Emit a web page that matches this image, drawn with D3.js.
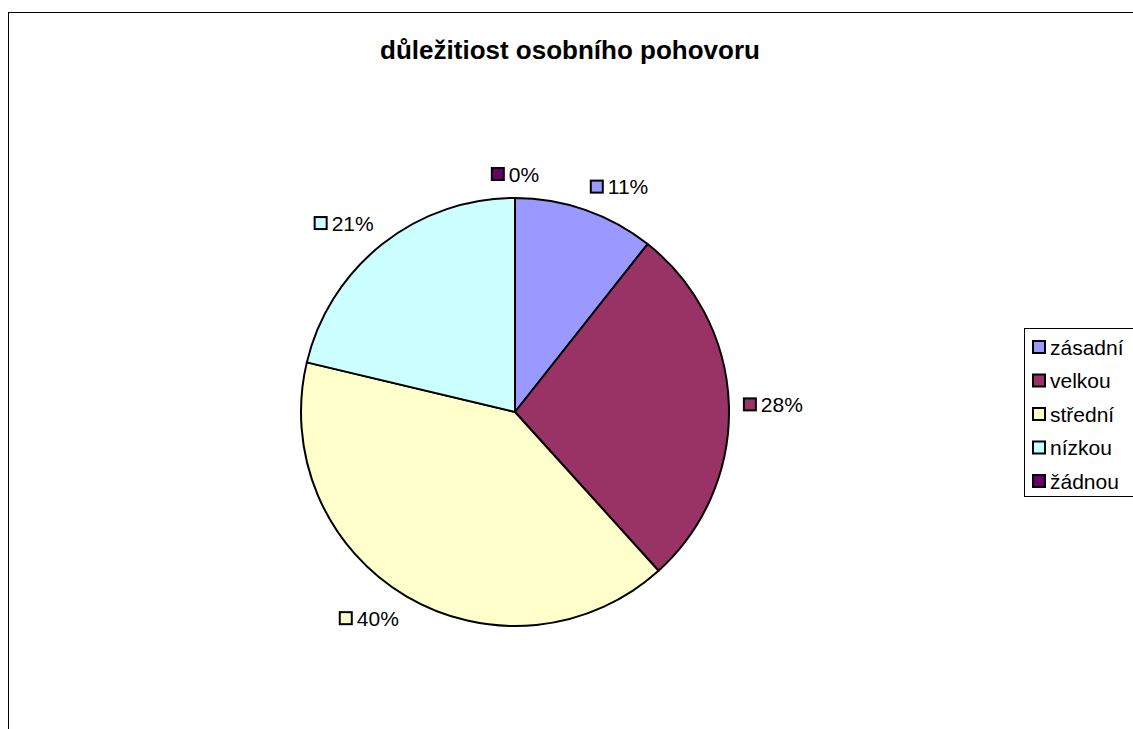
<!DOCTYPE html>
<html>
<head>
<meta charset="utf-8">
<script src="https://cdn.jsdelivr.net/npm/d3@7/dist/d3.min.js"></script>
<style>
  html, body { margin: 0; padding: 0; background: #fff; }
  svg { display: block; }
  text { font-family: "Liberation Sans", Arial, sans-serif; }
</style>
</head>
<body>
<script>
// Survey answers: how important is the personal interview (respondent counts)
const categories = ["zásadní", "velkou", "střední", "nízkou", "žádnou"];
const counts = [5, 13, 19, 10, 0];
const colors = ["#9999FF", "#993366", "#FFFFCC", "#CCFFFF", "#660066"];
const title = "důležitiost osobního pohovoru";

const W = 1133, H = 729;
const cx = 515, cy = 412, r = 214;

const svg = d3.select("body").append("svg")
  .attr("width", W).attr("height", H);

// chart frame (top and left edges visible)
svg.append("rect")
  .attr("x", 8.5).attr("y", 12.5)
  .attr("width", 1140).attr("height", 740)
  .attr("fill", "#fff").attr("stroke", "#000").attr("stroke-width", 1);

svg.append("text")
  .attr("x", 570).attr("y", 59)
  .attr("text-anchor", "middle")
  .attr("font-size", 26).attr("font-weight", "bold")
  .text(title);

const total = d3.sum(counts);
const data = categories.map((c, i) => ({ name: c, value: counts[i], color: colors[i] }));

const pie = d3.pie().value(d => d.value).sort(null);
const arcs = pie(data);
const arc = d3.arc().innerRadius(0).outerRadius(r);

const g = svg.append("g").attr("transform", `translate(${cx},${cy})`);
g.selectAll("path.slice")
  .data(arcs)
  .join("path")
  .attr("class", "slice")
  .attr("d", arc)
  .attr("fill", d => d.data.color)
  .attr("stroke", "#000")
  .attr("stroke-width", 2)
  .attr("stroke-linejoin", "round");

// percentage labels outside the pie, each with a colour key square
const fs = 21, sw = 12, gap = 6;
const labelR = r + 14;
arcs.forEach(a => {
  const mid = (a.startAngle + a.endAngle) / 2;
  const s = Math.sin(mid), c = Math.cos(mid);
  const px = cx + labelR * s, py = cy - labelR * c;
  const txt = Math.round(a.data.value / total * 100) + "%";
  const lg = svg.append("g");
  const t = lg.append("text")
    .attr("font-size", fs)
    .attr("x", sw + gap).attr("y", 0)
    .text(txt);
  const tw = t.node().getComputedTextLength();
  const bw = sw + gap + tw, bh = 20;
  let x0, y0;
  if (Math.abs(s) < 0.1) x0 = px - bw / 2;
  else if (s > 0) x0 = px;
  else x0 = px - bw;
  if (Math.abs(c) < 0.1) y0 = py - bh / 2;
  else if (c > 0) y0 = py - bh;
  else y0 = py;
  lg.insert("rect", "text")
    .attr("x", 1).attr("y", (bh - sw) / 2)
    .attr("width", sw).attr("height", sw)
    .attr("fill", a.data.color)
    .attr("stroke", "#000").attr("stroke-width", 2);
  t.attr("y", bh / 2 + fs * 0.36);
  lg.attr("transform", `translate(${x0},${y0})`);
});

// legend
const legend = svg.append("g");
legend.append("rect")
  .attr("x", 1024.5).attr("y", 328.5)
  .attr("width", 130).attr("height", 168)
  .attr("fill", "#fff").attr("stroke", "#000").attr("stroke-width", 1);
const rowY = d3.scalePoint().domain(categories).range([347, 481]);
categories.forEach((c, i) => {
  const y = rowY(c);
  legend.append("rect")
    .attr("x", 1033).attr("y", y - 6)
    .attr("width", 12).attr("height", 12)
    .attr("fill", colors[i])
    .attr("stroke", "#000").attr("stroke-width", 2);
  legend.append("text")
    .attr("x", 1050).attr("y", y + 7.5)
    .attr("font-size", 21)
    .text(c);
});
</script>
</body>
</html>
